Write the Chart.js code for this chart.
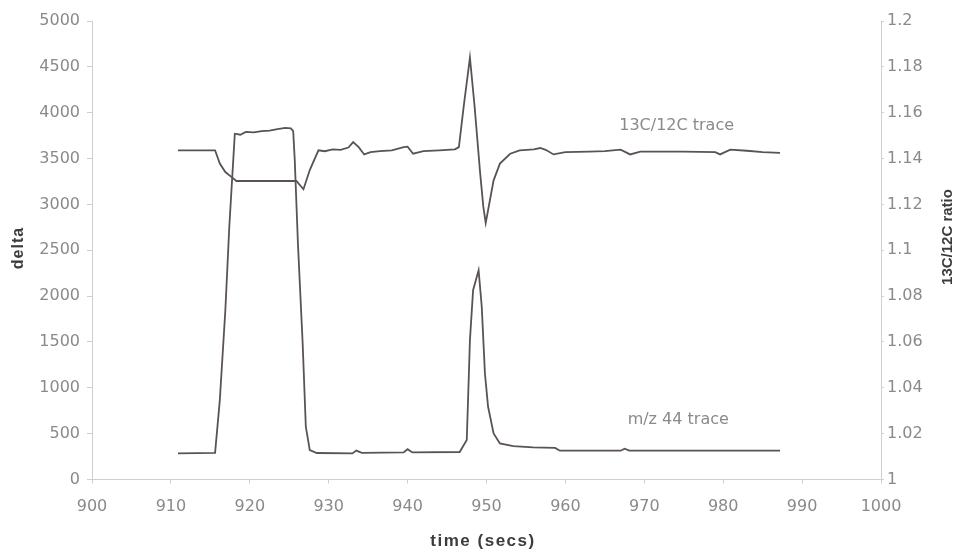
<!DOCTYPE html>
<html>
<head>
<meta charset="utf-8">
<script src="https://cdn.jsdelivr.net/npm/chart.js@4"></script>
<style>
  html, body { margin: 0; padding: 0; background: #fff; }
  #wrap { position: relative; width: 963px; height: 558px; }
</style>
</head>
<body>
<div id="wrap"><canvas id="c"></canvas></div>
<script>
'use strict';

// m/z 44 trace (left axis, delta)
const T44 = [910.9, 915.6, 916.2, 916.9, 917.4, 917.9, 918.1, 918.8, 919.5, 920.5, 921.5, 922.5, 923.5, 924.5,
             925.2, 925.5, 925.7, 926.1, 926.7, 927.1, 927.6, 928.5, 933.0, 933.5, 934.2, 939.5, 940.0, 940.6,
             946.6, 947.5, 947.9, 948.3, 949.0, 949.4, 949.8, 950.2, 950.9, 951.7, 953.4, 955.9, 958.7, 959.3,
             967.0, 967.5, 968.1, 987.2];
const D44 = [285, 290, 866, 1846, 2754, 3480, 3771, 3760, 3790, 3785, 3800, 3805, 3820, 3835,
             3830, 3800, 3480, 2573, 1484, 575, 321, 289, 285, 315, 290, 295, 330, 295,
             300, 430, 1520, 2064, 2282, 1882, 1157, 793, 503, 394, 365, 351, 345, 314,
             314, 335, 314, 314];

// 13C/12C trace (right axis, ratio)
const TR = [910.9, 915.6, 916.2, 916.9, 917.7, 918.3, 925.9, 926.8, 927.6, 928.7, 929.5, 930.5, 931.5, 932.5,
            933.1, 933.8, 934.5, 935.3, 936.5, 938.0, 939.5, 940.0, 940.7, 942.0, 944.0, 946.0, 946.5, 947.1,
            947.9, 948.5, 949.2, 949.6, 949.9, 950.9, 951.7, 953.0, 954.2, 956.0, 956.8, 957.5, 958.5, 960.0,
            963.0, 965.0, 967.0, 968.2, 969.5, 975.0, 979.0, 979.6, 980.9, 983.0, 985.0, 987.2];
const RR = [1.1436, 1.1436, 1.1378, 1.1341, 1.1319, 1.1302, 1.1302, 1.1266, 1.1350, 1.1436, 1.1432, 1.1440, 1.1438, 1.1448,
            1.1472, 1.1450, 1.1418, 1.1428, 1.1432, 1.1436, 1.1450, 1.1452, 1.1421, 1.1432, 1.1436, 1.1440, 1.1450, 1.1624,
            1.1840, 1.1624, 1.1334, 1.1189, 1.1119, 1.1305, 1.1378, 1.1421, 1.1436, 1.1440, 1.1446, 1.1438, 1.1418, 1.1428,
            1.1430, 1.1432, 1.1439, 1.1418, 1.1430, 1.1430, 1.1428, 1.1418, 1.1439, 1.1434, 1.1428, 1.1425];

const X_TICKS  = [900, 910, 920, 930, 940, 950, 960, 970, 980, 990, 1000];
const Y_TICKS  = [0, 500, 1000, 1500, 2000, 2500, 3000, 3500, 4000, 4500, 5000];
const Y1_TICKS = [1, 1.02, 1.04, 1.06, 1.08, 1.1, 1.12, 1.14, 1.16, 1.18, 1.2];
const Y1_LABELS = ['1', '1.02', '1.04', '1.06', '1.08', '1.1', '1.12', '1.14', '1.16', '1.18', '1.2'];

const X_TITLE = 'time (secs)';
const Y_TITLE = 'delta';
const Y1_TITLE = '13C/12C ratio';
const TRACE_LABELS = ['13C/12C trace', 'm/z 44 trace'];

const LINE = '#5a5258';
const AXIS = '#cfcfcf';
const TICK_TXT = '#8a8a8a';
const TICK_FONT = { family: '"DejaVu Sans", sans-serif', size: 16 };

const texts = {
  id: 'texts',
  afterDraw(chart) {
    const { ctx, scales: { x, y } } = chart;
    ctx.save();
    ctx.textAlign = 'center';
    ctx.textBaseline = 'middle';

    // trace labels, placed in data units
    ctx.fillStyle = '#8a8a8a';
    ctx.font = '16px "DejaVu Sans", sans-serif';
    ctx.fillText(TRACE_LABELS[0], x.getPixelForValue(974.1), y.getPixelForValue(3860));
    ctx.fillText(TRACE_LABELS[1], x.getPixelForValue(974.3), y.getPixelForValue(650));

    // axis titles
    ctx.fillStyle = '#3c3c3c';
    ctx.font = 'bold 17px "Liberation Sans", Arial, sans-serif';
    ctx.letterSpacing = '1.5px';
    ctx.fillText(X_TITLE, 483, 541);

    ctx.letterSpacing = '1px';
    ctx.font = 'bold 16px "Liberation Sans", Arial, sans-serif';
    ctx.save();
    ctx.translate(19, 248);
    ctx.rotate(-Math.PI / 2);
    ctx.fillText(Y_TITLE, 0, 0);
    ctx.restore();

    ctx.letterSpacing = '0px';
    ctx.font = 'bold 15px "Liberation Sans", Arial, sans-serif';
    ctx.save();
    ctx.translate(948, 237);
    ctx.rotate(-Math.PI / 2);
    ctx.fillText(Y1_TITLE, 0, 0);
    ctx.restore();

    ctx.restore();
  }
};

new Chart(document.getElementById('c'), {
  type: 'line',
  data: {
    datasets: [
      { label: 'm/z 44', data: T44.map((t, i) => ({ x: t, y: D44[i] })), yAxisID: 'y',
        borderColor: LINE, borderWidth: 1.8, pointRadius: 0, tension: 0 },
      { label: '13C/12C', data: TR.map((t, i) => ({ x: t, y: RR[i] })), yAxisID: 'y1',
        borderColor: LINE, borderWidth: 1.8, pointRadius: 0, tension: 0 }
    ]
  },
  options: {
    responsive: true,
    maintainAspectRatio: false,
    animation: false,
    layout: { padding: { top: 21, left: 0, right: 0, bottom: 0 } },
    plugins: { legend: { display: false }, tooltip: { enabled: false } },
    scales: {
      x: {
        type: 'linear', min: 900, max: 1000,
        afterBuildTicks: s => { s.ticks = X_TICKS.map(v => ({ value: v })); },
        afterFit: s => { s.height = 78.5; },
        ticks: { color: TICK_TXT, font: TICK_FONT, padding: 14, maxRotation: 0, callback: v => String(v) },
        grid: { drawOnChartArea: false, tickLength: 4, color: AXIS },
        border: { color: AXIS }
      },
      y: {
        position: 'left', min: 0, max: 5000,
        afterBuildTicks: s => { s.ticks = Y_TICKS.map(v => ({ value: v })); },
        afterFit: s => { s.width = 92; },
        ticks: { color: TICK_TXT, font: TICK_FONT, padding: 7, callback: v => String(v) },
        grid: { drawOnChartArea: false, tickLength: 5, color: AXIS },
        border: { color: AXIS }
      },
      y1: {
        position: 'right', min: 1, max: 1.2,
        afterBuildTicks: s => { s.ticks = Y1_TICKS.map(v => ({ value: v })); },
        afterFit: s => { s.width = 82; },
        ticks: { color: TICK_TXT, font: TICK_FONT, padding: 3,
                 callback: (v, i) => Y1_LABELS[i] },
        grid: { drawOnChartArea: false, tickLength: 3, color: AXIS },
        border: { color: AXIS }
      }
    }
  },
  plugins: [texts]
});
</script>
</body>
</html>
